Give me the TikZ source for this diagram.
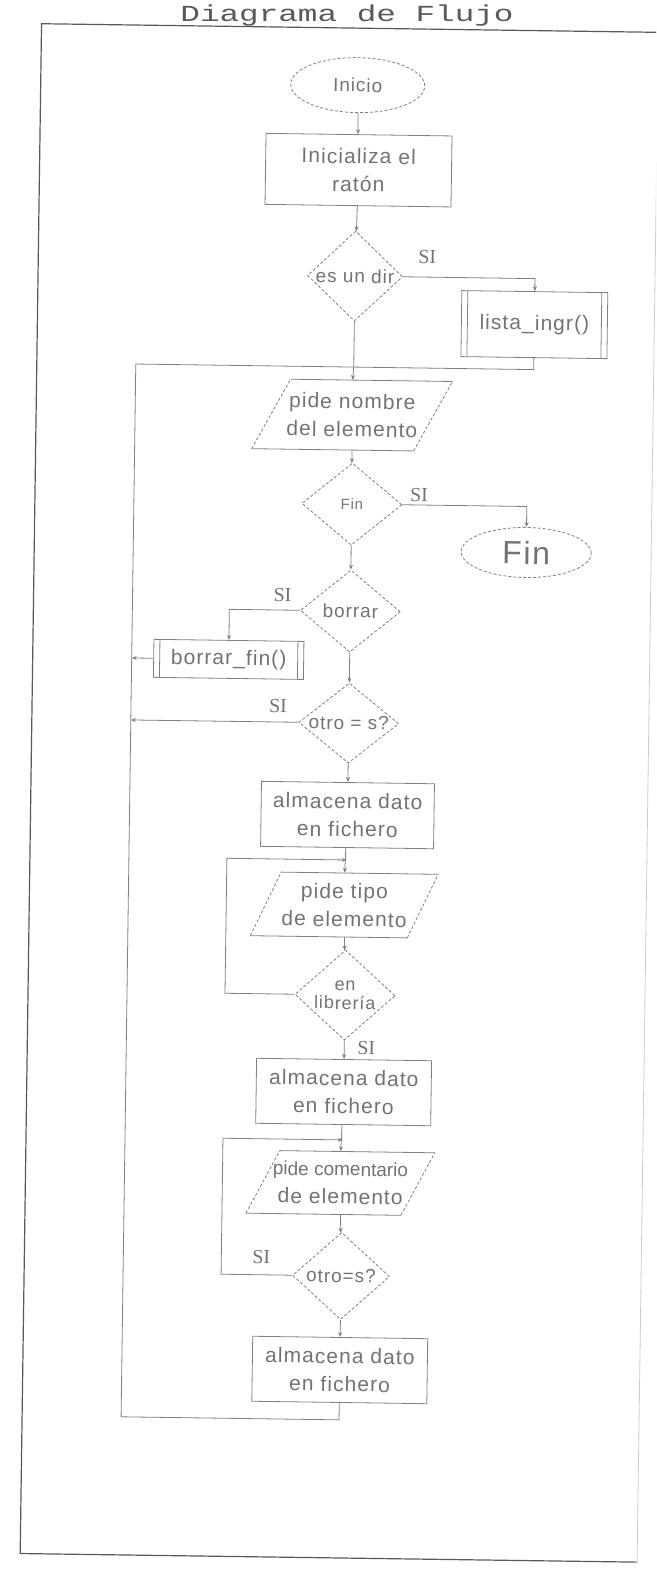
\documentclass[tikz,border=0pt]{standalone}
\usepackage{fontspec}
\setmainfont{Liberation Serif}
\newfontfamily\chartsans[LetterSpace=5]{Liberation Sans}
\newfontfamily\chartnarrow{Liberation Sans}
\newfontfamily\chartmono{Liberation Mono}
\usetikzlibrary{shapes.geometric,arrows.meta}

\tikzset{
  ink/.style={draw=black!50, line width=0.8pt},
  inkdash/.style={ink, dash pattern=on 3pt off 2pt},
  flow/.style={ink, -{Stealth[length=5pt,width=4pt]}},
  line/.style={ink},
  procbox/.style={ink, rectangle, inner sep=0pt, align=center, text=black!55,
    font=\chartsans\fontsize{21}{28}\selectfont},
  iotext/.style={rectangle, inner sep=0pt, align=center, text=black!55,
    font=\chartsans\fontsize{21}{28}\selectfont},
  decision/.style={inkdash, diamond, inner sep=0pt},
  dtext/.style={inner sep=0pt, align=center, text=black!55,
    font=\chartsans\fontsize{19}{18}\selectfont},
  terminal/.style={inkdash, ellipse, inner sep=0pt, text=black!55},
  yes/.style={inner sep=0pt, text=black!55, font=\fontsize{20}{20}\selectfont},
}

% input/output parallelogram: name, cx, cy, side width, height, slant, text
\newcommand\ioshape[7]{%
  \node[iotext, minimum width=#4, minimum height=#5] (#1) at (#2,#3) {#7};
  \draw[ink] ({#2-#4/2+#6/2},{#3-#5/2}) -- ({#2+#4/2+#6/2},{#3-#5/2});
  \draw[ink] ({#2-#4/2-#6/2},{#3+#5/2}) -- ({#2+#4/2-#6/2},{#3+#5/2});
  \draw[inkdash] ({#2-#4/2-#6/2},{#3+#5/2}) -- ({#2-#4/2+#6/2},{#3-#5/2});
  \draw[inkdash] ({#2+#4/2-#6/2},{#3+#5/2}) -- ({#2+#4/2+#6/2},{#3-#5/2});
}
% predefined process box with double sides: name, cx, cy, width, height, text
\newcommand\subproc[6]{%
  \node[procbox, minimum width=#4, minimum height=#5] (#1) at (#2,#3) {#6};
  \draw[ink] ({#2-#4/2+6},{#3-#5/2}) -- ({#2-#4/2+6},{#3+#5/2});
  \draw[ink] ({#2+#4/2-6},{#3-#5/2}) -- ({#2+#4/2-6},{#3+#5/2});
}

\begin{document}
\begin{tikzpicture}[x=1pt, y=-1pt]
\useasboundingbox (0,0) rectangle (656,1569);
\clip (0,0) rectangle (656,1569);

% title above the sheet frame
\node[anchor=base, inner sep=0pt, text=black!65, xscale=1.42,
      font=\chartmono\fontsize{23}{23}\selectfont] (title) at (347,21) {Diagrama de Flujo};

\begin{scope}[rotate around={-0.8:(345,780)}, transform shape]

% sheet frame
\draw[draw=black!65, line width=1.2pt] (648,28) -- (31,28) -- (31,1558) -- (648,1558);
\draw[draw=black!20, line width=0.8pt] (648,28) -- (648,1558);

% start and initialisation
\node[terminal, minimum width=134, minimum height=55,
      font=\chartsans\fontsize{19}{19}\selectfont] (inicio) at (348,85) {Inicio};
\node[procbox, minimum width=186, minimum height=71] (init) at (350,170) {Inicializa el\\ratón};

% first decision and its side process
\node[decision, minimum width=95, minimum height=90] (d1) at (348,276) {};
\node[dtext] (d1t) at (d1) {es un dir};
\subproc{lista}{528}{322}{146}{66}{lista\_ingr()}
\coordinate (d1r) at (528,276);
\coordinate (lr) at (528,367);
\coordinate (j1) at (348,367);
\node[yes] (si1) at (420,256) {SI};

% main loop
\ioshape{pn}{347}{415}{162}{70}{38}{pide nombre\\del elemento}
\node[decision, minimum width=100, minimum height=82] (dfin) at (348,504) {};
\node[dtext, font=\chartsans\fontsize{15}{15}\selectfont] (dfint) at (dfin) {Fin};
\node[terminal, minimum width=130, minimum height=50,
      font=\chartsans\fontsize{32}{32}\selectfont] (fin) at (523,550) {Fin};
\coordinate (dfr) at (523,504);
\node[yes] (si2) at (415,494) {SI};

\node[decision, minimum width=100, minimum height=82] (dbor) at (348,611) {};
\node[dtext] (dbort) at (dbor) {borrar};
\subproc{bfin}{227}{661}{150}{38}{borrar\_fin()}
\coordinate (dbl) at (227,611);
\node[yes] (si3) at (280,596) {SI};

\node[decision, minimum width=100, minimum height=80] (dotro) at (348,723) {};
\node[dtext] (dotrot) at (dotro) {otro = s?};
\node[yes] (si4) at (277,707) {SI};

% loop rail on the left
\coordinate (railtop) at (130,367);
\coordinate (railbf) at (130,661);
\coordinate (railot) at (130,723);
\coordinate (railbot) at (130,1420);
\coordinate (colbot) at (348,1420);

\node[procbox, minimum width=173, minimum height=65] (alm1) at (348,815) {almacena dato\\en fichero};
\coordinate (j2) at (348,860);
\ioshape{pt}{346}{905}{157}{64}{30}{pide tipo\\de elemento}
\node[decision, minimum width=100, minimum height=90] (dlib) at (348,995) {};
\node[dtext, font=\chartsans\fontsize{18}{19}\selectfont] (dlibt) at (dlib) {en\\librería};
\coordinate (dll) at (228,995);
\coordinate (j2l) at (228,860);
\node[yes] (si5) at (370,1048) {SI};

\node[procbox, minimum width=175, minimum height=65] (alm2) at (348,1092) {almacena dato\\en fichero};
\coordinate (j3) at (348,1140);
\ioshape{pc}{346}{1183}{155}{63}{33}{{\chartnarrow\fontsize{19}{26}\selectfont pide comentario}\\de elemento}
\node[decision, minimum width=97, minimum height=87] (dot2) at (348,1276) {};
\node[dtext] (dot2t) at (dot2) {otro=s?};
\coordinate (d2l) at (228,1276);
\coordinate (j3l) at (228,1140);
\node[yes] (si6) at (268,1258) {SI};

\node[procbox, minimum width=175, minimum height=65] (alm3) at (348,1370) {almacena dato\\en fichero};

% connectors
\draw[flow] (inicio) -- (init);
\draw[flow] (init) -- (d1);
\draw[line] (d1) -- (j1);
\draw[flow] (d1.east) -- (d1r) -- (lista.north);
\draw[line] (lista.south) -- (lr) -- (j1);
\draw[flow] (j1) -- (pn.north);
\draw[flow] (pn) -- (dfin);
\draw[flow] (dfin.east) -- (dfr) -- (fin.north);
\draw[flow] (dfin) -- (dbor);
\draw[flow] (dbor.west) -- (dbl) -- (bfin.north);
\draw[flow] (bfin.west) -- (railbf);
\draw[flow] (dbor) -- (dotro);
\draw[flow] (dotro.west) -- (railot);
\draw[flow] (dotro) -- (alm1);
\draw[flow] (alm1) -- (pt.north);
\draw[flow] (dlib.west) -- (dll) -- (j2l) -- (j2);
\draw[flow] (pt) -- (dlib);
\draw[flow] (dlib) -- (alm2);
\draw[flow] (alm2) -- (pc.north);
\draw[flow] (dot2.west) -- (d2l) -- (j3l) -- (j3);
\draw[flow] (pc) -- (dot2);
\draw[flow] (dot2) -- (alm3);
\draw[line] (alm3.south) -- (colbot) -- (railbot) -- (railtop) -- (j1);

\end{scope}
\end{tikzpicture}
\end{document}
